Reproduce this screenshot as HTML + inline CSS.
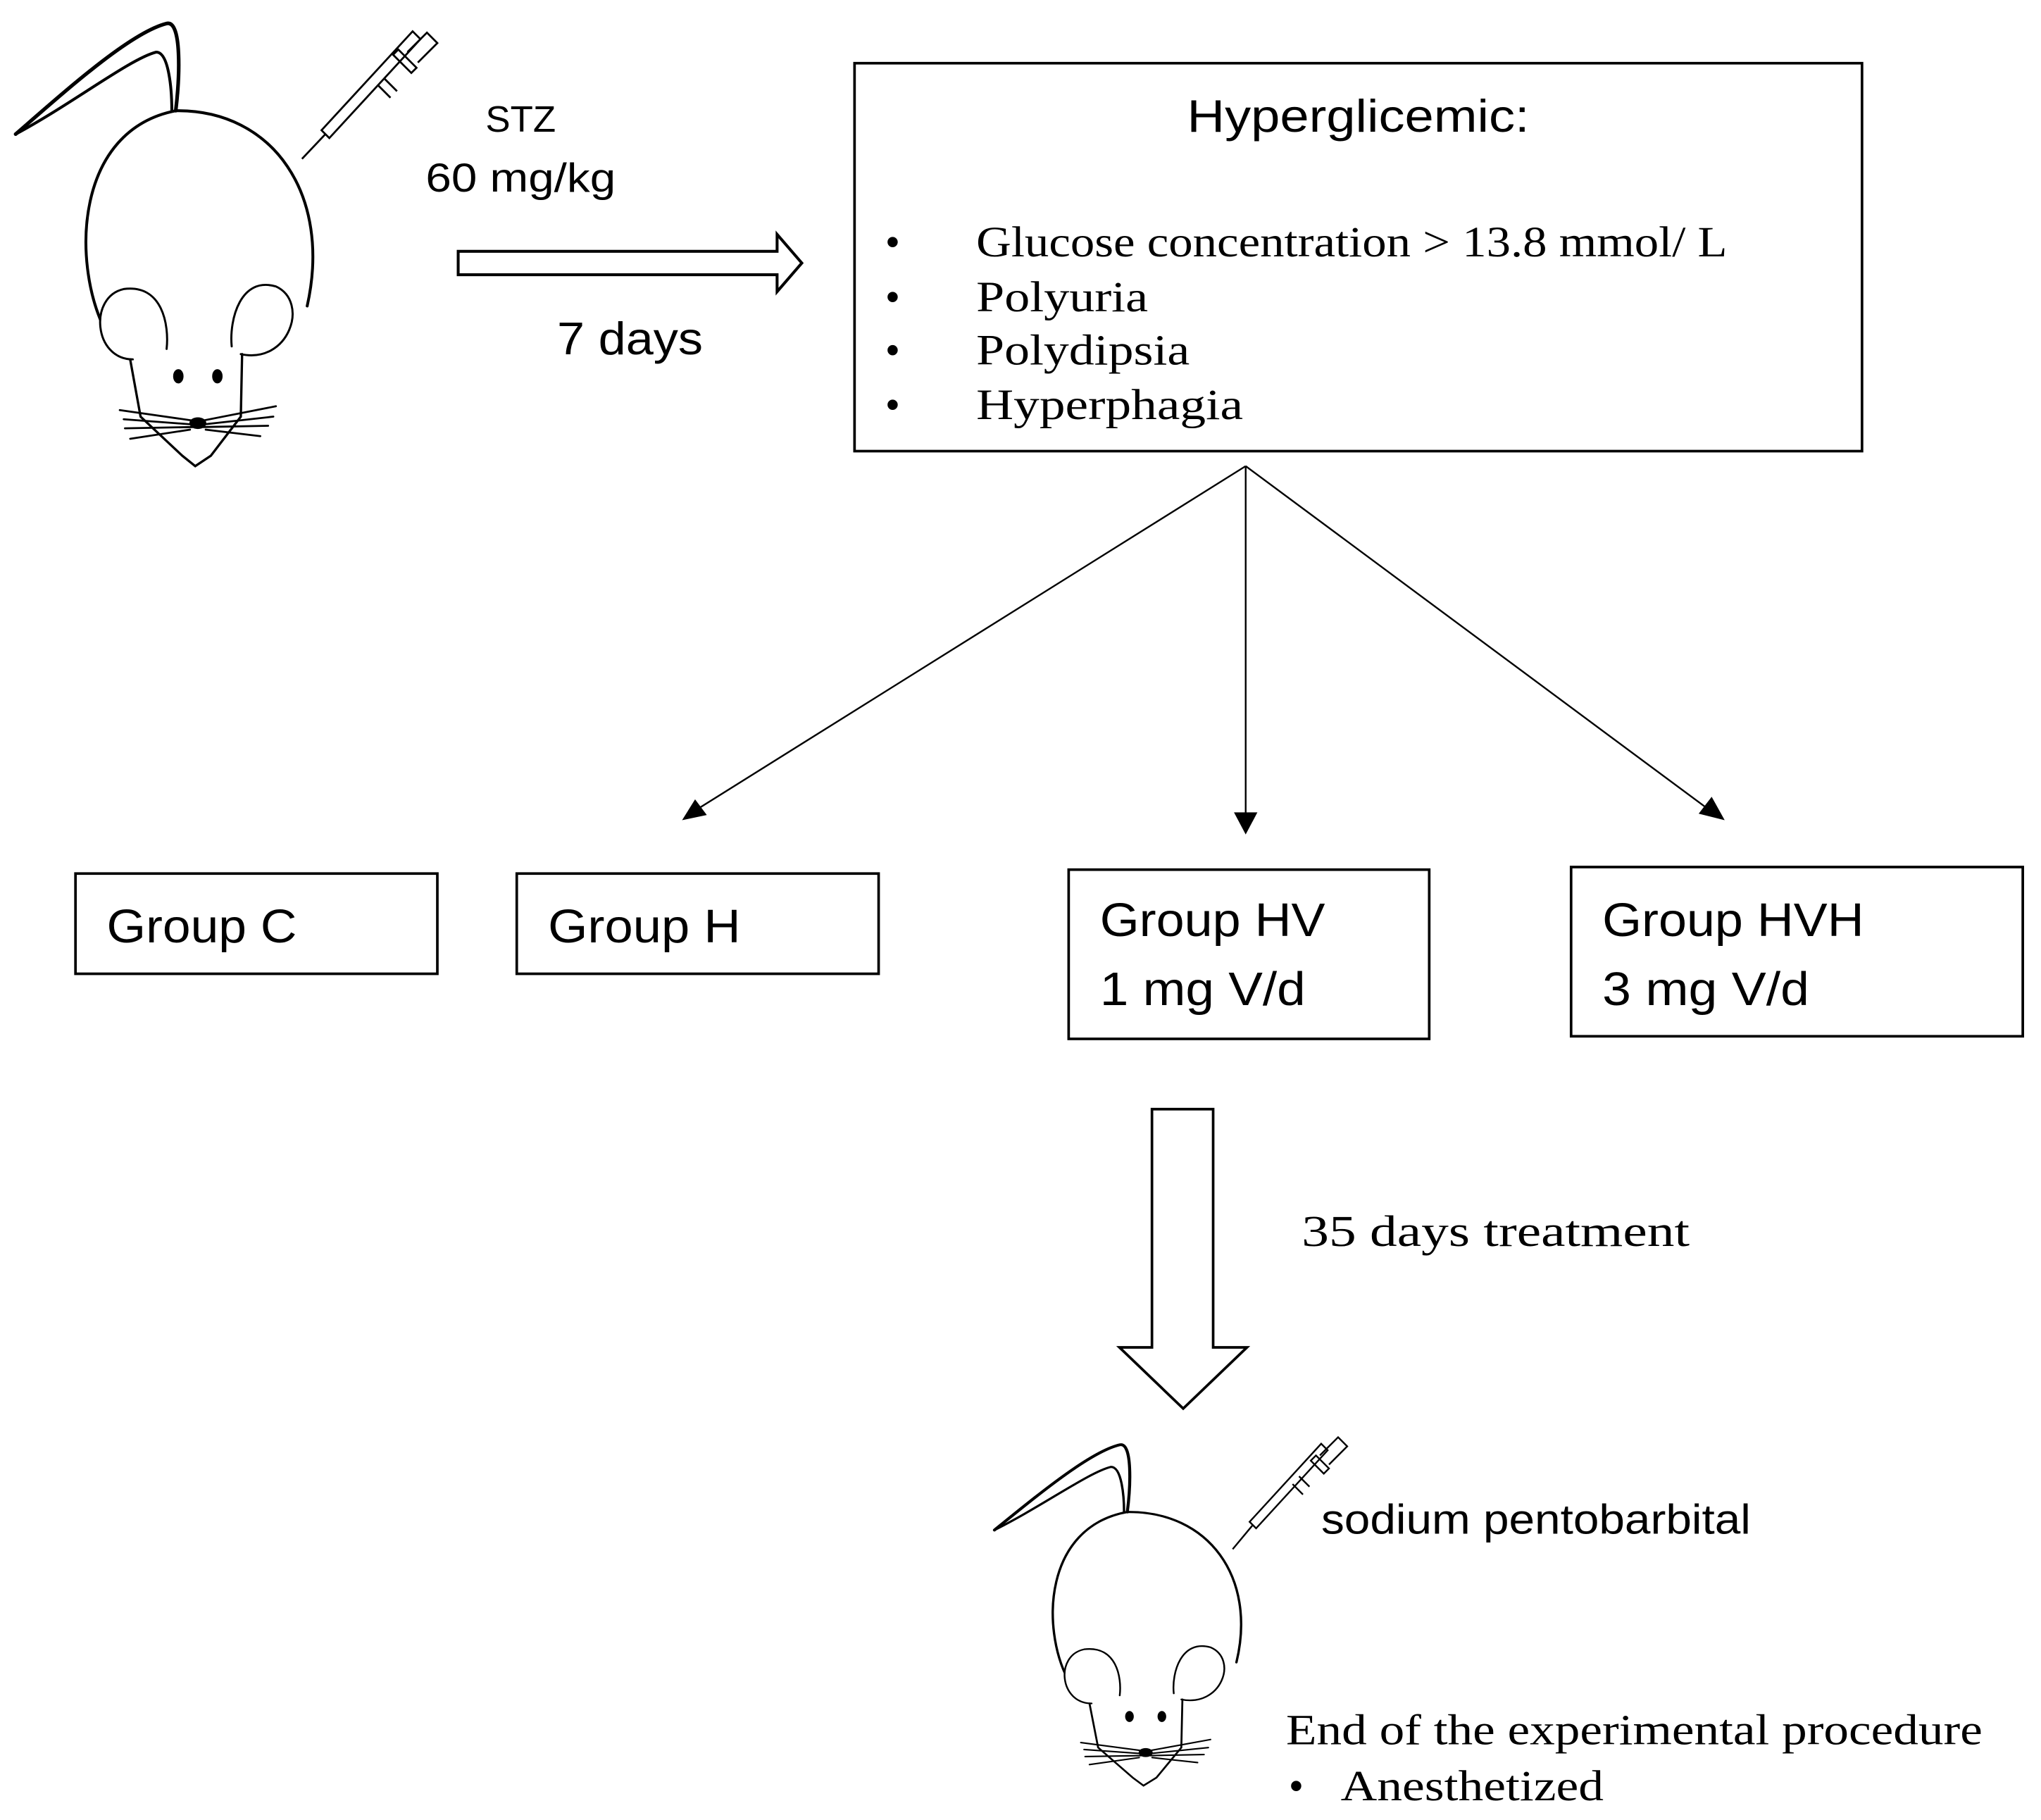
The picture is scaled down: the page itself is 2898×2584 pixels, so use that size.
<!DOCTYPE html>
<html><head><meta charset="utf-8"><style>
html,body{margin:0;padding:0;background:#fff;}
svg{display:block;}
.s{font-family:"Liberation Sans",sans-serif;}
.r{font-family:"Liberation Serif",serif;}
</style></head><body>
<svg width="2898" height="2584" viewBox="0 0 1568 1398" xmlns="http://www.w3.org/2000/svg">
<defs>
<g id="mouse" fill="none" stroke="#000" stroke-linecap="round">
  <path d="M12,103 C50,70 100,25 128,18 C140,15 138,60 135,85" stroke-width="2.8"/>
  <path d="M12,103 C55,80 100,45 120,40 C130,40 132,70 132,85" stroke-width="2.2"/>
  <path d="M80,252 C55,200 58,100 135,85 C210,84 255,150 236,235" stroke-width="2.2"/>
  <path d="M102,276 C72,276 68,228 95,222 C125,218 130,250 128,268" fill="#fff" stroke-width="1.6"/>
  <path d="M185,272 C222,280 238,232 212,220 C185,212 176,245 178,266" fill="#fff" stroke-width="1.6"/>
  <path d="M100,276 L108,320 L140,350 L150,358 L162,350 L185,320 L186,272" stroke-width="1.8"/>
  <ellipse cx="137" cy="289" rx="3.5" ry="5" fill="#000"/>
  <ellipse cx="167" cy="289" rx="3.5" ry="5" fill="#000"/>
  <ellipse cx="152" cy="325" rx="6" ry="4" fill="#000"/>
  <path d="M92,315 L148,323 M95,322 L148,326 M96,329 L148,328 M100,337 L146,330 M212,312 L156,323 M210,320 L156,326 M206,327 L156,328 M200,335 L158,330" stroke-width="1.5"/>
</g>
</defs>
<use href="#mouse"/>
<g fill="none" stroke="#000" stroke-width="1.5">
  <line x1="232" y1="122" x2="250" y2="103"/>
  <path d="M247,100 l6,6 l70,-76 l-6,-6 z"/>
  <path d="M290,65 l10,10 M295,60 l10,10"/>
  <path d="M302,42 l14,14 l4,-4 l-14,-14 z"/>
  <path d="M313,40 l15,-15 l8,8 l-15,15"/>
</g>
<use href="#mouse" transform="translate(754,1096) scale(0.83,0.77)"/>
<g fill="none" stroke="#000" stroke-width="1.3">
  <line x1="947" y1="1190" x2="962" y2="1172"/>
  <path d="M960,1169 l5,5 l55,-60 l-5,-5 z"/>
  <path d="M993,1140 l8,8 M998,1134 l8,8"/>
  <path d="M1007,1122 l10,10 l4,-4 l-10,-10 z"/>
  <path d="M1014,1118 l14,-14 l7,7 l-14,14"/>
</g>
<text class="s" x="373" y="101" font-size="28" textLength="54" lengthAdjust="spacingAndGlyphs">STZ</text>
<text class="s" x="327" y="147" font-size="31" textLength="146" lengthAdjust="spacingAndGlyphs">60 mg/kg</text>
<path d="M352,193 L597,193 L597,180 L616,202 L597,224 L597,211 L352,211 Z" fill="#fff" stroke="#000" stroke-width="2.2"/>
<text class="s" x="428" y="272" font-size="35" textLength="112" lengthAdjust="spacingAndGlyphs">7 days</text>
<rect x="656.5" y="48.5" width="774" height="298" fill="#fff" stroke="#000" stroke-width="2"/>
<text class="s" x="912" y="101" font-size="35" textLength="263" lengthAdjust="spacingAndGlyphs">Hyperglicemic:</text>
<g class="r" font-size="33">
<text x="680" y="197">•</text><text x="750" y="197" textLength="577" lengthAdjust="spacingAndGlyphs">Glucose concentration &gt; 13.8 mmol/ L</text>
<text x="680" y="239">•</text><text x="750" y="239" textLength="132" lengthAdjust="spacingAndGlyphs">Polyuria</text>
<text x="680" y="280">•</text><text x="750" y="280" textLength="164" lengthAdjust="spacingAndGlyphs">Polydipsia</text>
<text x="680" y="322">•</text><text x="750" y="322" textLength="205" lengthAdjust="spacingAndGlyphs">Hyperphagia</text>
</g>
<g stroke="#000" stroke-width="1.3">
<line x1="957" y1="358" x2="535" y2="622"/>
<line x1="957" y1="358" x2="957" y2="628"/>
<line x1="957" y1="358" x2="1313" y2="622"/>
</g>
<path d="M524,630 L534,614 L543,626 Z" fill="#000"/>
<path d="M948,624 L966,624 L957,641 Z" fill="#000"/>
<path d="M1325,630 L1305,625 L1315,612 Z" fill="#000"/>
<g fill="#fff" stroke="#000" stroke-width="2">
<rect x="58" y="671" width="278" height="77"/>
<rect x="397" y="671" width="278" height="77"/>
<rect x="821" y="668" width="277" height="130"/>
<rect x="1207" y="666" width="347" height="130"/>
</g>
<g class="s" font-size="36">
<text x="82" y="724" textLength="146" lengthAdjust="spacingAndGlyphs">Group C</text>
<text x="421" y="724" textLength="148" lengthAdjust="spacingAndGlyphs">Group H</text>
<text x="845" y="719" textLength="173" lengthAdjust="spacingAndGlyphs">Group HV</text>
<text x="845" y="772" textLength="158" lengthAdjust="spacingAndGlyphs">1 mg V/d</text>
<text x="1231" y="719" textLength="201" lengthAdjust="spacingAndGlyphs">Group HVH</text>
<text x="1231" y="772" textLength="159" lengthAdjust="spacingAndGlyphs">3 mg V/d</text>
</g>
<path d="M885,852 L932,852 L932,1035 L958,1035 L909,1082 L860,1035 L885,1035 Z" fill="#fff" stroke="#000" stroke-width="2"/>
<text class="r" x="1000" y="957" font-size="34" textLength="298" lengthAdjust="spacingAndGlyphs">35 days treatment</text>
<text class="s" x="1015" y="1178" font-size="32" textLength="330" lengthAdjust="spacingAndGlyphs">sodium pentobarbital</text>
<text class="r" x="988" y="1340" font-size="33" textLength="535" lengthAdjust="spacingAndGlyphs">End of the experimental procedure</text>
<text class="r" x="990" y="1383" font-size="33">•</text>
<text class="r" x="1030" y="1383" font-size="33" textLength="202" lengthAdjust="spacingAndGlyphs">Anesthetized</text>
</svg>
</body></html>
